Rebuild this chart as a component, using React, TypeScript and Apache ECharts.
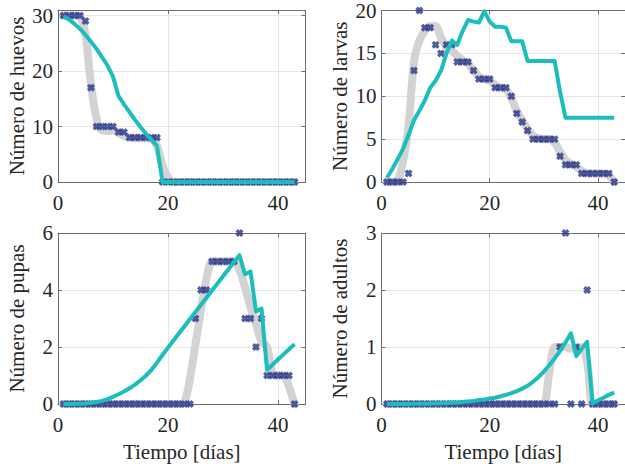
import React, { useEffect, useRef } from "react";
import * as echarts from "echarts";

const days = [1,2,3,4,5,6,7,8,9,10,11,12,13,14,15,16,17,18,19,20,21,22,23,24,25,26,27,28,29,30,31,32,33,34,35,36,37,38,39,40,41,42,43];

// Huevos
const huevosObs = [30,30,30,30,29,17,10,10,10,10,9,9,8,8,8,8,8,8,0,0,0,0,0,0,0,0,0,0,0,0,0,0,0,0,0,0,0,0,0,0,0,0,0];
const huevosSmooth = [30,30,30,29.8,26.5,17.5,11.5,9.3,9.2,9.3,8.8,8.3,8,7.9,7.9,7.9,7.8,6.5,3,0.8,0,0,0,0,0,0,0,0,0,0,0,0,0,0,0,0,0,0,0,0,0,0,0];
const huevosModel = [29.8,29.3,28.5,27.6,26.5,25.3,24.0,22.5,21.0,19.0,15.5,14.0,12.6,11.2,9.9,8.7,7.6,6.5,0,0,0,0,0,0,0,0,0,0,0,0,0,0,0,0,0,0,0,0,0,0,0,0,0];

// Larvas
const larvasObs = [0,0,0,0,1,13,20,18,18,16,15,16,16,14,14,14,13,12,12,12,11,11,11,10,8,7,6,5,5,5,5,5,3,2,2,2,1,1,1,1,1,1,0];
const larvasSmooth = [0,0,0.2,2.5,6.5,14,16.5,17.6,18.2,18.2,16.8,15.8,15.3,14.7,14.2,13.8,13,12.3,12,11.8,11.3,11,10.8,9.8,8.3,7.2,6.2,5.4,5.1,5,5,4.6,3.5,2.6,2.1,1.8,1.3,1.0,1,1,1,0.8,0];
const larvasModel = [0.5,1.5,2.7,3.9,5.5,7.2,8.3,9.5,11.0,11.8,13.0,15.0,16.5,16.0,17.6,18.9,18.7,18.6,19.9,18.7,18.1,18.1,18.0,16.4,16.4,16.4,14.1,14.1,14.1,14.1,14.1,14.1,10.5,7.5,7.5,7.5,7.5,7.5,7.5,7.5,7.5,7.5,7.5];

// Pupas
const pupasObs = [0,0,0,0,0,0,0,0,0,0,0,0,0,0,0,0,0,0,0,0,0,0,0,0,3,4,4,5,5,5,5,5,6,3,3,2,3,1,1,1,1,1,0];
const pupasSmooth = [0,0,0,0,0,0,0,0,0,0,0,0,0,0,0,0,0,0,0,0,0,0,0.05,0.9,2.1,3.3,4.4,5,5,5,5,5,4.7,4.1,3.4,2.8,2.2,2.0,1.1,1,1,0.6,0];
const pupasModel = [0,0,0,0.01,0.02,0.04,0.07,0.11,0.17,0.25,0.34,0.44,0.55,0.68,0.83,1.0,1.2,1.45,1.72,1.98,2.23,2.48,2.73,2.98,3.23,3.48,3.73,3.98,4.23,4.48,4.73,4.98,5.22,4.55,4.65,3.25,3.35,1.2,1.38,1.56,1.74,1.92,2.1];

// Adultos
const adultosObs = [0,0,0,0,0,0,0,0,0,0,0,0,0,0,0,0,0,0,0,0,0,0,0,0,0,0,0,0,0,0,0,0,1,3,0,1,0,2,0,0,0,0,0];
const adultosSmooth = [0,0,0,0,0,0,0,0,0,0,0,0,0,0,0,0,0,0,0,0,0,0,0,0,0,0,0,0,0,0,0.55,1.0,1.0,1.0,0.97,0.97,1.0,0.75,0,0,0,0,0];
const adultosModel = [0,0,0,0.001,0.002,0.003,0.004,0.006,0.008,0.01,0.012,0.015,0.02,0.025,0.035,0.045,0.055,0.07,0.08,0.095,0.11,0.135,0.16,0.19,0.225,0.27,0.32,0.39,0.47,0.57,0.68,0.8,0.93,1.08,1.24,0.84,0.97,1.09,0.01,0.06,0.11,0.16,0.2];

const xTicks = [0, 20, 40];
const xMax = 45;
const panels = [
  { name: "Número de huevos", obs: huevosObs, smooth: huevosSmooth, model: huevosModel, max: 31, ticks: [0, 10, 20, 30] },
  { name: "Número de larvas", obs: larvasObs, smooth: larvasSmooth, model: larvasModel, max: 20, ticks: [0, 5, 10, 15, 20] },
  { name: "Número de pupas", obs: pupasObs, smooth: pupasSmooth, model: pupasModel, max: 6, ticks: [0, 2, 4, 6] },
  { name: "Número de adultos", obs: adultosObs, smooth: adultosSmooth, model: adultosModel, max: 3, ticks: [0, 1, 2, 3] },
];

const FONT = "Liberation Serif";
const TXT = "#262626";
const AXIS = "#6e6e6e";
const GRIDC = "#e6e6e6";
const XPATH = "path://M3,0 L5,2 L7,0 L10,3 L8,5 L10,7 L7,10 L5,8 L3,10 L0,7 L2,5 L0,3 Z";

export default function App() {
  const ref = useRef<HTMLDivElement>(null);
  useEffect(() => {
    if (!ref.current) return;
    const chart = echarts.init(ref.current, undefined, { renderer: "svg" });
    const gridPos = [
      { left: 58, top: 10, width: 247.5, height: 172 },
      { left: 381.5, top: 10, width: 247.5, height: 172 },
      { left: 58, top: 233, width: 247.5, height: 171 },
      { left: 381.5, top: 233, width: 247.5, height: 171 },
    ];
    const xAxes: any[] = [];
    const yAxes: any[] = [];
    const series: any[] = [];
    panels.forEach((p, i) => {
      const bottomRow = i >= 2;
      const yInterval = p.ticks[1] - p.ticks[0];
      xAxes.push({
        type: "value", gridIndex: i, min: 0, max: xMax, interval: xTicks[1] - xTicks[0],
        name: bottomRow ? "Tiempo [días]" : "", nameLocation: "middle", nameGap: 37,
        nameTextStyle: { fontFamily: FONT, fontSize: 21, color: TXT },
        axisLine: { show: true, onZero: false, lineStyle: { color: AXIS, width: 1 } },
        axisTick: { show: true, inside: true, length: 4, lineStyle: { color: AXIS } },
        axisLabel: { fontFamily: FONT, fontSize: 21, color: TXT, margin: 10, showMaxLabel: false,
          formatter: (v: number) => (xTicks.includes(v) ? String(v) : "") },
        splitLine: { show: true, lineStyle: { color: GRIDC, width: 1 } },
      });
      xAxes.push({
        type: "value", gridIndex: i, min: 0, max: xMax, interval: xTicks[1] - xTicks[0], position: "top",
        axisLine: { show: true, onZero: false, lineStyle: { color: AXIS, width: 1 } },
        axisTick: { show: true, inside: true, length: 4, lineStyle: { color: AXIS } },
        axisLabel: { show: false }, splitLine: { show: false },
      });
      yAxes.push({
        type: "value", gridIndex: i, min: 0, max: p.max, interval: yInterval,
        name: p.name, nameLocation: "middle", nameGap: 31,
        nameTextStyle: { fontFamily: FONT, fontSize: 21, color: TXT },
        axisLine: { show: true, onZero: false, lineStyle: { color: AXIS, width: 1 } },
        axisTick: { show: true, inside: true, length: 4, lineStyle: { color: AXIS } },
        axisLabel: { fontFamily: FONT, fontSize: 21, color: TXT, margin: 5,
          formatter: (v: number) => (p.ticks.includes(v) ? String(v) : "") },
        splitLine: { show: true, lineStyle: { color: GRIDC, width: 1 } },
      });
      yAxes.push({
        type: "value", gridIndex: i, min: 0, max: p.max, interval: yInterval, position: "right",
        axisLine: { show: true, onZero: false, lineStyle: { color: AXIS, width: 1 } },
        axisTick: { show: true, inside: true, length: 4, lineStyle: { color: AXIS } },
        axisLabel: { show: false }, splitLine: { show: false },
      });
      const xi = 2 * i;
      const yi = 2 * i;
      series.push({
        type: "line", xAxisIndex: xi, yAxisIndex: yi, z: 1,
        data: days.map((d, k) => [d, p.smooth[k]]),
        smooth: 0.3, showSymbol: false, silent: true,
        lineStyle: { color: "#d3d3d3", width: 8, cap: "round", join: "round" },
      });
      series.push({
        type: "scatter", xAxisIndex: xi, yAxisIndex: yi, z: 2,
        data: days.map((d, k) => [d, p.obs[k]]),
        symbol: XPATH, symbolSize: 8, itemStyle: { color: "#27348b" }, silent: true,
      });
      series.push({
        type: "line", xAxisIndex: xi, yAxisIndex: yi, z: 3,
        data: days.map((d, k) => [d, p.model[k]]),
        showSymbol: false, silent: true,
        lineStyle: { color: "#1cbdbd", width: 4, join: "round" },
      });
    });
    chart.setOption({
      animation: false,
      textStyle: { fontFamily: FONT },
      grid: gridPos,
      xAxis: xAxes,
      yAxis: yAxes,
      series,
    });
    return () => chart.dispose();
  }, []);
  return <div ref={ref} style={{ position: "absolute", left: 0, top: 0, width: 625, height: 464 }} />;
}
